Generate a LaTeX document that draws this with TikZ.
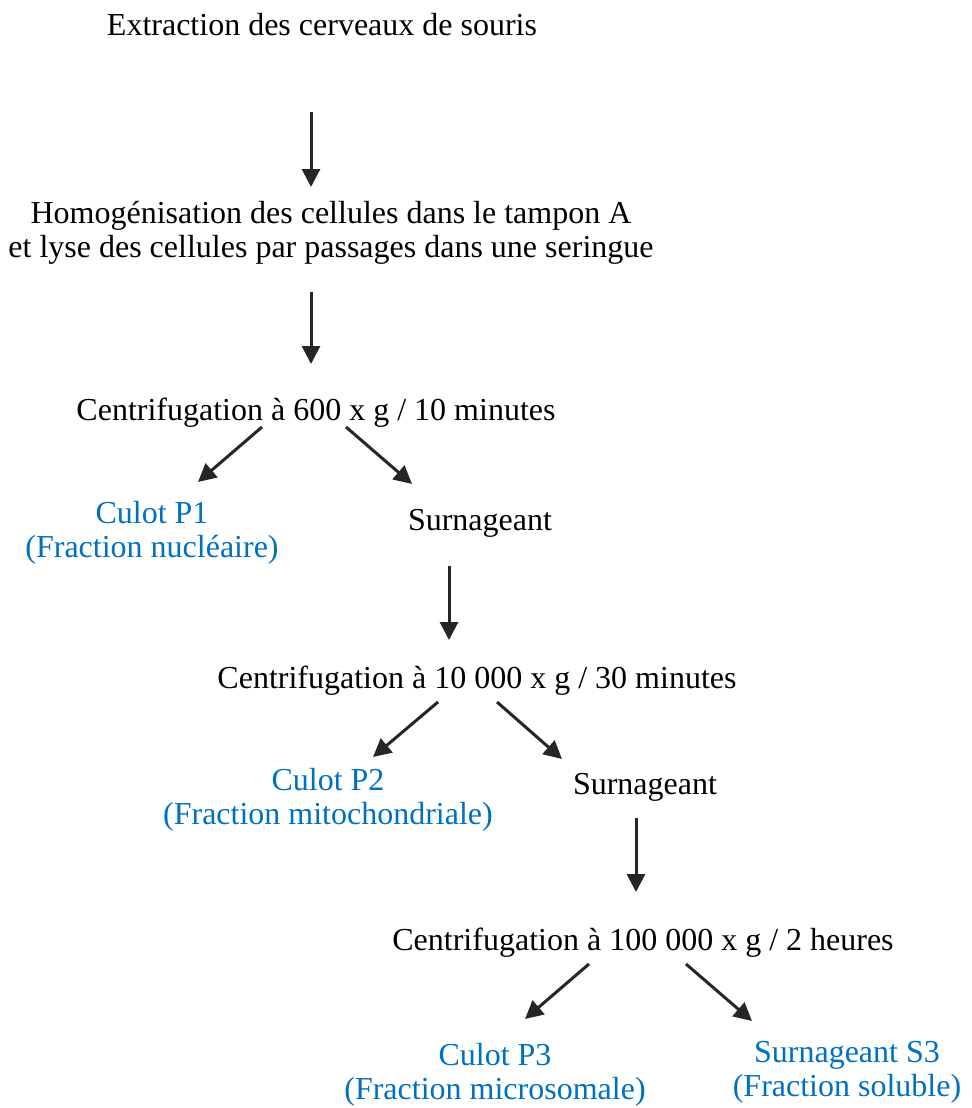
\documentclass[tikz,border=0pt]{standalone}
\usepackage{fontspec}
\setmainfont{Liberation Serif}
\usetikzlibrary{arrows.meta}
\definecolor{frac}{RGB}{0,112,192}

\begin{document}
\begin{tikzpicture}[
  x=0.5pt,y=-0.5pt,
  font=\fontsize{16}{17}\selectfont,
  txt/.style={inner sep=0pt,align=center},
  res/.style={txt,text=frac},
  arr/.style={-{Triangle[length=9pt,width=9pt]},line width=1.5pt,black!85}
]
\useasboundingbox (0,0) rectangle (972,1108);
% steps
\node[txt] (extr)  at (322,25)  {Extraction des cerveaux de souris};
\node[txt] (homog) at (331,233) {Homogénisation des cellules dans le tampon A\\
                                  et lyse des cellules par passages dans une seringue};
\node[txt] (cent1) at (316,413) {Centrifugation à 600 x g / 10 minutes};
\node[res] (cul1)  at (152,533) {Culot P1\\(Fraction nucléaire)};
\node[txt] (surn1) at (480,523) {Surnageant};
\node[txt] (cent2) at (477,681) {Centrifugation à 10 000 x g / 30 minutes};
\node[res] (cul2)  at (328,800) {Culot P2\\(Fraction mitochondriale)};
\node[txt] (surn2) at (645,787) {Surnageant};
\node[txt] (cent3) at (643,943) {Centrifugation à 100 000 x g / 2 heures};
\node[res] (cul3)  at (495,1075) {Culot P3\\(Fraction microsomale)};
\node[res] (surn3) at (847,1072) {Surnageant S3\\(Fraction soluble)};
% arrow ends
\coordinate (extr-o)  at (311,112);  \coordinate (homog-i) at (311,187);
\coordinate (homog-o) at (311,292);  \coordinate (cent1-i) at (311,364);
\coordinate (cent1-l) at (262,427);  \coordinate (cul1-i)  at (198,482);
\coordinate (cent1-r) at (346,427);  \coordinate (surn1-i) at (412,484);
\coordinate (surn1-o) at (449,566);  \coordinate (cent2-i) at (449,640);
\coordinate (cent2-l) at (438,702);  \coordinate (cul2-i)  at (373,757);
\coordinate (cent2-r) at (497,702);  \coordinate (surn2-i) at (562,759);
\coordinate (surn2-o) at (636,818);  \coordinate (cent3-i) at (636,892);
\coordinate (cent3-l) at (589,964);  \coordinate (cul3-i)  at (525,1019);
\coordinate (cent3-r) at (686,964);  \coordinate (surn3-i) at (752,1021);
% arrows
\draw[arr] (extr-o)  -- (homog-i);
\draw[arr] (homog-o) -- (cent1-i);
\draw[arr] (cent1-l) -- (cul1-i);
\draw[arr] (cent1-r) -- (surn1-i);
\draw[arr] (surn1-o) -- (cent2-i);
\draw[arr] (cent2-l) -- (cul2-i);
\draw[arr] (cent2-r) -- (surn2-i);
\draw[arr] (surn2-o) -- (cent3-i);
\draw[arr] (cent3-l) -- (cul3-i);
\draw[arr] (cent3-r) -- (surn3-i);
\end{tikzpicture}
\end{document}
